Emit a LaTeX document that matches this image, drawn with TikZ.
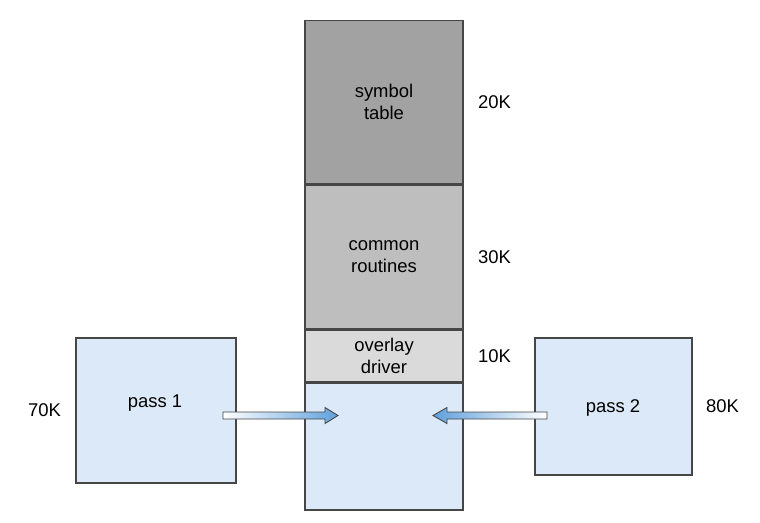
\documentclass[tikz,border=0pt]{standalone}
\usepackage{fontspec}
\setmainfont{Liberation Sans}
\usetikzlibrary{positioning,calc}

\definecolor{edgegray}{RGB}{70,70,70}
\definecolor{symgray}{RGB}{162,162,162}
\definecolor{routgray}{RGB}{190,190,190}
\definecolor{drvgray}{RGB}{218,218,218}
\definecolor{passblue}{RGB}{220,233,248}
\definecolor{arrowblue}{RGB}{95,160,220}

\tikzset{
  memseg/.style={draw=edgegray, line width=0.8pt, minimum width=3.16cm,
    inner sep=0pt, align=center, font=\fontsize{10.5}{12.5}\selectfont},
  passbox/.style={draw=edgegray, line width=0.8pt, fill=passblue, inner sep=0pt},
  sizelabel/.style={font=\fontsize{10.5}{12.5}\selectfont, inner sep=0pt},
  fatarrow/.style={draw=edgegray, line width=0.5pt, line join=miter}
}

\begin{document}
\begin{tikzpicture}[x=0.02cm,y=-0.02cm]
        \useasboundingbox (0,0) rectangle (760,522);

        % Memory column
        \node[memseg, fill=symgray, minimum height=3.26cm, anchor=north] (symtab) at (384,20) {symbol\\table};
        \node[memseg, fill=routgray, minimum height=2.88cm, below=0pt of symtab] (routines) {common\\routines};
        \node[memseg, fill=drvgray, minimum height=1.02cm, below=0pt of routines] (driver) {overlay\\driver};
        \node[memseg, fill=passblue, minimum height=2.54cm, below=0pt of driver] (overlay) {};

        % Sizes of the segments
        \node[sizelabel, right=0.28cm of symtab.east, anchor=west] (symsize) {20K};
        \node[sizelabel, right=0.28cm of routines.east, anchor=west] (routsize) {30K};
        \node[sizelabel, right=0.28cm of driver.east, anchor=west] (drvsize) {10K};

        % The two passes
        \node[passbox, minimum width=3.2cm, minimum height=2.9cm] (pass1) at (156,410.5) {};
        \node[passbox, minimum width=3.14cm, minimum height=2.74cm] (pass2) at (613.5,406.5) {};
        \node[sizelabel] (pass1name) at (155,403) {pass 1};
        \node[sizelabel] (pass2name) at (613,408) {pass 2};
        \node[sizelabel, left=0.28cm of pass1.west, anchor=east] (pass1size) {70K};
        \node[sizelabel, right=0.26cm of pass2.east, anchor=west] (pass2size) {80K};

        % Loading arrows
        \coordinate (load1) at (223,415.5);
        \coordinate (load1end) at (338,415.5);
        \coordinate (load2) at (547,415.5);
        \coordinate (load2end) at (433,415.5);
        \draw[fatarrow, left color=white, right color=arrowblue]
          ($(load1)+(0,-3.5)$) -- ($(load1end)+(-13,-3.5)$) -- ($(load1end)+(-13,-8)$)
          -- (load1end) -- ($(load1end)+(-13,8)$) -- ($(load1end)+(-13,3.5)$)
          -- ($(load1)+(0,3.5)$) -- cycle;
        \draw[fatarrow, right color=white, left color=arrowblue]
          ($(load2)+(0,-3.5)$) -- ($(load2end)+(14,-3.5)$) -- ($(load2end)+(14,-8)$)
          -- (load2end) -- ($(load2end)+(14,8)$) -- ($(load2end)+(14,3.5)$)
          -- ($(load2)+(0,3.5)$) -- cycle;
      \end{tikzpicture}
\end{document}
